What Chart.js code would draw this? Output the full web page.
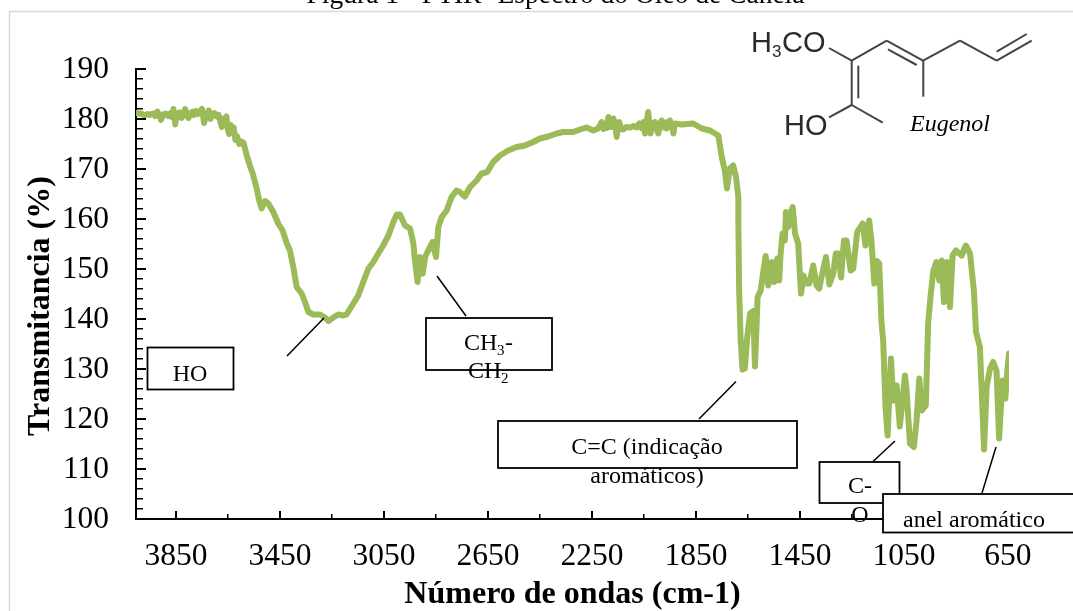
<!DOCTYPE html>
<html><head><meta charset="utf-8">
<style>html,body{margin:0;padding:0;background:#fff}#w{position:relative;width:1073px;height:611px;overflow:hidden}</style>
<script src="https://cdn.jsdelivr.net/npm/chart.js@4"></script>
</head><body><div id="w"><canvas id="c" width="1073" height="611"></canvas></div>
<script>
const chartTitle = 'Figura 1 - FTIR- Espectro do Óleo de Canela';
const xAxisTitle = 'Número de ondas (cm-1)';
const yAxisTitle = 'Transmitancia (%)';
const seriesName = 'Óleo de Canela';
const xTickValues = [3850,3650,3450,3250,3050,2850,2650,2450,2250,2050,1850,1650,1450,1250,1050,850,650];
const xTickLabels = ['3850','3450','3050','2650','2250','1850','1450','1050','650'];
const yTickLabels = ['100','110','120','130','140','150','160','170','180','190'];
const wavenumbers = [4001,3990,3980,3970,3960,3950,3940,3930,3922,3915,3908,3900,3890,3880,3872,3866,3860,3856,3853,3848,3842,3835,3828,3822,3815,3808,3802,3795,3788,3781,3774,3766,3758,3750,3746,3742,3736,3730,3724,3718,3710,3702,3694,3686,3680,3674,3668,3662,3656,3651,3646,3640,3634,3628,3622,3615,3607,3598,3590,3578,3565,3555,3540,3530,3521,3508,3495,3476,3457,3440,3424,3412,3399,3386,3367,3354,3341,3322,3296,3277,3264,3245,3226,3206,3194,3168,3149,3130,3110,3091,3072,3053,3033,3014,3001,2989,2969,2950,2937,2931,2921,2912,2901,2892,2880,2863,2850,2841,2828,2809,2790,2771,2758,2739,2719,2694,2675,2653,2630,2604,2572,2540,2508,2476,2450,2418,2386,2361,2322,2296,2271,2245,2230,2219,2213,2206,2200,2193,2187,2182,2178,2172,2168,2161,2155,2150,2145,2138,2130,2118,2104,2090,2078,2068,2059,2052,2046,2040,2034,2029,2025,2017,2008,2002,1995,1988,1982,1975,1968,1963,1956,1950,1943,1937,1931,1918,1905,1861,1828,1796,1764,1751,1739,1731,1720,1707,1696,1687,1687,1684,1678,1671,1662,1653,1642,1630,1623,1613,1601,1594,1582,1572,1559,1549,1537,1530,1525,1517,1508,1504,1495,1486,1478,1469,1457,1446,1437,1427,1414,1399,1386,1376,1363,1350,1337,1322,1312,1303,1292,1281,1271,1255,1245,1230,1209,1198,1184,1175,1164,1155,1145,1137,1130,1121,1113,1100,1091,1078,1066,1046,1040,1027,1012,1002,991,982,966,957,948,937,925,914,905,896,884,873,863,850,828,812,796,781,773,758,751,742,732,719,707,694,684,671,660,653,646];
const transmittance = [181.2,181.1,181.0,180.7,181.0,180.8,181.1,180.6,181.5,180.8,179.8,180.9,181.1,180.6,181.1,180.4,182.0,180.5,178.9,181.2,180.7,181.3,180.2,181.0,182.0,180.9,180.2,181.0,181.4,180.8,181.6,181.0,181.5,182.0,180.6,179.2,181.0,180.2,181.7,180.0,181.0,181.2,180.5,180.8,179.6,178.4,179.5,180.2,180.5,178.0,177.0,178.8,177.5,178.3,175.8,176.5,175.0,175.5,175.2,172.7,170.5,169.1,166.1,163.7,162.1,163.6,163.1,161.4,159.1,157.7,155.1,153.7,150.4,146.4,145.1,143.4,141.4,140.9,140.9,140.3,139.6,140.3,140.9,140.7,140.9,143.1,144.7,147.4,150.1,151.4,153.1,154.7,156.7,159.4,160.9,160.9,158.7,158.1,155.1,151.7,147.4,152.4,149.1,152.4,153.7,155.4,152.4,158.4,160.4,161.7,164.4,165.7,165.4,164.5,166.4,167.7,169.1,169.4,171.4,172.7,173.7,174.4,174.7,175.4,176.1,176.5,177.1,177.4,177.4,177.9,178.3,177.7,178.0,178.7,179.4,178.0,179.0,178.2,180.4,178.4,179.2,178.4,180.1,179.0,176.4,178.6,179.4,178.0,177.9,178.4,178.3,178.6,178.3,179.1,178.2,179.4,177.1,179.2,181.4,178.8,177.1,179.1,179.4,178.0,177.1,179.2,179.7,178.3,179.3,178.1,179.5,179.7,178.8,177.1,179.1,179.0,178.9,179.1,178.1,177.7,176.7,172.4,169.7,166.1,170.1,170.7,168.4,164.4,159.1,145.7,135.7,129.9,130.1,136.4,141.1,141.6,130.5,144.4,145.7,148.4,152.6,146.7,151.4,147.4,152.1,147.7,152.7,157.1,155.7,161.4,158.4,161.1,162.4,157.1,155.1,145.1,148.7,147.1,147.1,150.7,146.7,146.1,149.4,152.4,146.9,149.1,153.1,153.1,148.3,155.7,155.7,149.7,150.1,157.4,159.1,154.7,159.7,155.7,147.1,151.6,151.1,139.7,135.7,122.4,116.7,132.1,123.7,126.7,118.5,128.7,125.7,115.1,114.4,119.4,128.1,121.7,122.7,139.1,144.4,149.7,151.4,147.7,151.7,143.4,151.4,142.4,152.7,153.7,152.7,154.7,153.1,145.7,137.4,134.4,125.7,113.9,126.4,130.1,131.4,129.7,116.1,127.7,124.1,129.4,133.1];

const SERIF = '"Liberation Serif","Times New Roman",serif';
const SANS = '"Liberation Sans",Arial,sans-serif';

const overlay = {
  id:'overlay',
  afterLayout(chart){
    if(chart.titleBlock){chart.titleBlock.left=38;chart.titleBlock.right=1073;}
  },
  beforeDraw(chart){
    const c = chart.ctx;
    c.save();
    c.strokeStyle='#d9d9d9'; c.lineWidth=1.5;
    c.beginPath(); c.moveTo(9.5,611); c.lineTo(9.5,11.5); c.lineTo(1073,11.5); c.stroke();
    c.restore();
  },
  afterDatasetsDraw(chart){
    const c = chart.ctx;
    const xs=chart.scales.x, ys=chart.scales.y, a=chart.chartArea;
    c.save();
    // longer major tick marks, taken from the scales
    c.strokeStyle='#000'; c.lineWidth=2;
    xTickLabels.forEach(t=>{const p=xs.getPixelForValue(+t);c.beginPath();c.moveTo(p,a.bottom);c.lineTo(p,a.bottom-8);c.stroke();});
    yTickLabels.forEach(t=>{const p=ys.getPixelForValue(+t);c.beginPath();c.moveTo(a.left,p);c.lineTo(a.left+10,p);c.stroke();});
    c.restore();
  },
  afterDraw(chart){
    const c = chart.ctx;
    c.save();
    // leader lines
    c.strokeStyle='#000'; c.lineWidth=1.5;
    [[287,356,324,318],[437,276,466,316],[699,419,736,381.5],[873,461.5,895,441],[982,493,996,447]].forEach(l=>{
      c.beginPath(); c.moveTo(l[0],l[1]); c.lineTo(l[2],l[3]); c.stroke();
    });
    // annotation boxes
    const box=(x,y,w,h)=>{c.fillStyle='#fff';c.fillRect(x,y,w,h);c.strokeStyle='#000';c.lineWidth=1.8;c.strokeRect(x,y,w,h);};
    const txt=(s,x,y,size,align,font,color)=>{c.fillStyle=color||'#000';c.font=(font||'')+' '+size+'px '+SERIF;c.textAlign=align||'center';c.textBaseline='alphabetic';c.fillText(s,x,y);};
    box(147.5,347.5,86,42); txt('HO',190,381,24);
    box(426,318,126,52);
    txt('CH',464,350,24,'left'); txt('3',497,355,15,'left'); txt('-',505,350,24,'left');
    txt('CH',468,378,24,'left'); txt('2',501,383,15,'left');
    box(498,421,299,47);
    txt('C=C (indicação',647,454,24); txt('aromáticos)',647,483,24);
    box(819.5,462,80,41);
    txt('C-',860,493,24); txt('O',860,522,24);
    box(883,494,195,38.5);
    txt('anel aromático',903,527,24,'left');
    // molecule
    c.strokeStyle='#444'; c.lineWidth=2;
    [[829,48,851.7,60.7],[851.7,60.7,886.7,40.7],[886.7,40.7,923,60.7],[888,49.3,916.7,65],[923,60.7,960,40.7],[960,40.7,996.7,60.7],[996.7,60.7,1031.7,40.7],[996.7,51.7,1026.7,34],[851.7,60.7,851.7,105],[858.3,65.7,858.3,98.3],[851.7,105,829,117.3],[851.7,105,882.7,122.7],[923.3,60.7,923.3,96.7]].forEach(l=>{
      c.beginPath(); c.moveTo(l[0],l[1]); c.lineTo(l[2],l[3]); c.stroke();
    });
    c.fillStyle='#2a2a2a';
    c.textAlign='left'; c.textBaseline='alphabetic';
    c.font='29px '+SANS;
    c.fillText('H',751,52); c.font='17px '+SANS; c.fillText('3',772,57); c.font='29px '+SANS; c.fillText('CO',782,52);
    c.fillText('HO',784,135);
    txt('Eugenol',910,130.5,24,'left','italic');
    c.restore();
  }
};

new Chart(document.getElementById('c'),{
  type:'line',
  data:{datasets:[{label:seriesName,data:wavenumbers.map((x,i)=>({x,y:transmittance[i]})),borderColor:'#9BBB59',borderWidth:6,pointRadius:0,tension:0,borderJoinStyle:'round',borderCapStyle:'round',fill:false}]},
  plugins:[overlay],
  options:{
    responsive:false,animation:false,devicePixelRatio:1,
    layout:{padding:{left:0,right:64,top:0,bottom:0}},
    plugins:{
      legend:{display:false},tooltip:{enabled:false},
      title:{display:true,text:chartTitle,color:'#000',font:{family:SERIF,size:27.5,weight:'normal',lineHeight:1.2},padding:{top:-20.5,bottom:56.5}}
    },
    scales:{
      x:{type:'linear',reverse:true,min:646,max:4004,
        border:{color:'#000',width:2},
        grid:{display:true,drawOnChartArea:false,drawTicks:true,color:'#000',lineWidth:1.5,tickLength:-5},
        afterBuildTicks(s){s.ticks=xTickValues.map(v=>({value:v}));},
        afterFit(s){s.height=92;},
        ticks:{autoSkip:false,maxRotation:0,color:'#000',font:{family:SERIF,size:31.5},padding:23.5,
          callback(v){const t=String(v);return xTickLabels.includes(t)?t:'';}},
        title:{display:true,text:xAxisTitle,color:'#000',font:{family:SERIF,size:32,weight:'bold'},padding:{top:0,bottom:-3}}
      },
      y:{min:100,max:190,
        border:{color:'#000',width:2},
        grid:{display:true,drawOnChartArea:false,color:'#000',lineWidth:1.5,tickLength:-7},
        afterBuildTicks(s){const a=[];for(let v=100;v<=190;v+=2)a.push({value:v});s.ticks=a;},
        afterFit(s){s.width=136;},
        ticks:{autoSkip:false,color:'#000',font:{family:SERIF,size:31.5},padding:34,labelOffset:1,
          callback(v){const t=String(v);return yTickLabels.includes(t)?t:'';}},
        title:{display:true,text:yAxisTitle+'   ',color:'#000',font:{family:SERIF,size:32,weight:'bold'},padding:{top:22,bottom:0}}
      }
    }
  }
});
</script></body></html>
